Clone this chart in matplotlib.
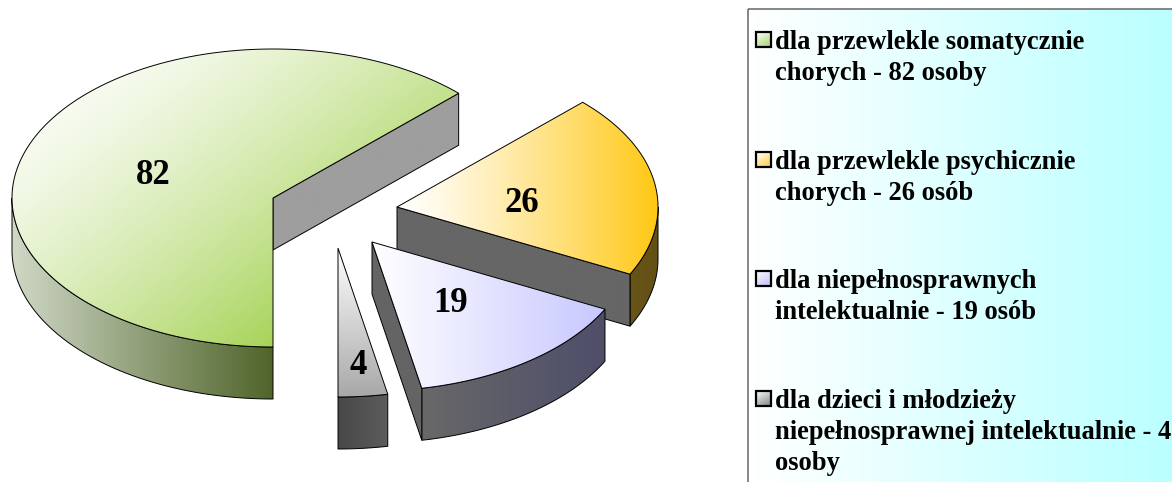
import numpy as np
import matplotlib
matplotlib.use('Agg')
import matplotlib.pyplot as plt
from matplotlib.patches import Polygon
from matplotlib.colors import LinearSegmentedColormap

values = [82, 26, 19, 4]
legend_labels = ['dla przewlekle somatycznie\nchorych - 82 osoby',
                 'dla przewlekle psychicznie\nchorych - 26 osób',
                 'dla niepełnosprawnych\nintelektualnie - 19 osób',
                 'dla dzieci i młodzieży\nniepełnosprawnej intelektualnie - 4\nosoby']

# layout, in pixels of the picture
apex = [(273, 198), (397, 207), (372, 242), (338, 248)]
label_pos = [(153, 175), (522, 203), (451, 304), (358, 366)]
legend_y = [30, 150, 269, 389]
rx, ry, depth = 261, 149, 52

def rgb(r, g, b):
    return (r / 255, g / 255, b / 255)

# top face: gradient direction, start colour, end colour, gamma
tops = [((0.62, 0.78), rgb(255, 255, 255), rgb(126, 191, 11), 1.5),
        ((1, 0), rgb(255, 255, 255), rgb(255, 200, 20), 1.2),
        ((1, 0), rgb(255, 255, 255), rgb(200, 200, 255), 1),
        ((0, 1), rgb(255, 255, 255), rgb(168, 168, 168), 1)]
# outer wall colours, left to right
walls = [(rgb(208, 216, 198), rgb(80, 100, 42)),
         (rgb(104, 84, 24), rgb(100, 80, 20)),
         (rgb(104, 104, 104), rgb(78, 78, 106)),
         (rgb(72, 72, 72), rgb(92, 92, 92))]
# flat side from the apex
cut_colors = [(rgb(158, 158, 158), rgb(158, 158, 158)),
              (rgb(102, 102, 102), rgb(102, 102, 102)),
              (rgb(100, 100, 100), rgb(100, 100, 100)),
              None]
key_colors = [rgb(165, 210, 100), rgb(255, 205, 60), rgb(190, 190, 250), rgb(130, 130, 130)]

fig = plt.figure(figsize=(11.72, 4.82), dpi=100)
ax = fig.add_axes([0, 0, 1, 1])

def arc(cx, cy, a, b, n=120):
    t = np.radians(np.linspace(a, b, n))
    return np.column_stack([cx + rx * np.sin(t), cy - ry * np.cos(t)])

def fill_grad(pts, direction, c0, c1, z, lw=0.7, gamma=1, edge='black'):
    # gradient image clipped to a polygon
    pts = np.asarray(pts)
    x0, y0 = pts.min(axis=0)
    x1, y1 = pts.max(axis=0)
    xx, yy = np.meshgrid(np.linspace(x0, x1, 200), np.linspace(y0, y1, 200))
    g = xx * direction[0] + yy * direction[1]
    g = ((g - g.min()) / max(g.max() - g.min(), 1e-6)) ** gamma
    cmap = LinearSegmentedColormap.from_list('g', [c0, c1])
    im = ax.imshow(g, extent=(x0, x1, y1, y0), cmap=cmap, aspect='auto', zorder=z, origin='upper')
    poly = Polygon(pts, closed=True, facecolor='none', edgecolor=edge, linewidth=lw, zorder=z + 0.1)
    ax.add_patch(poly)
    im.set_clip_path(poly)

total = sum(values)
angle = 180.0
order = 1
for i, v in enumerate(values):
    span = v / total * 360
    a, b = angle, angle + span
    angle = b
    if angle >= 360:
        angle -= 360
    cx, cy = apex[i]
    # outer wall, only the front half of the rim shows
    lo, hi = max(a, 90), min(b, 270)
    if hi > lo:
        rim = arc(cx, cy, lo, hi)
        wall = np.vstack([rim, rim[::-1] + [0, depth]])
        fill_grad(wall, (1, 0), walls[i][0], walls[i][1], order)
    # flat cut side
    if cut_colors[i] is not None:
        p = arc(cx, cy, b, b, 1)[0]
        cut = [(cx, cy), tuple(p), (p[0], p[1] + depth), (cx, cy + depth)]
        fill_grad(cut, (1, 0), cut_colors[i][0], cut_colors[i][1], order + 1)
    top = np.vstack([[(cx, cy)], arc(cx, cy, a, b, 240)])
    fill_grad(top, tops[i][0], tops[i][1], tops[i][2], order + 2, gamma=tops[i][3])
    ax.text(label_pos[i][0], label_pos[i][1], str(v), family='Liberation Serif', weight='bold',
            fontsize=25, ha='center', va='center', color='black', zorder=30)
    order += 3

# legend box runs off the picture on the right and at the bottom
box = [(747.5, 9), (1180, 9), (1180, 490), (747.5, 490)]
fill_grad(box, (1, 0), rgb(255, 255, 255), rgb(185, 255, 255), 40, lw=1.1, edge='#666666')
for i, lab in enumerate(legend_labels):
    y = legend_y[i]
    key = [(755.5, y + 2), (770.5, y + 2), (770.5, y + 17), (755.5, y + 17)]
    fill_grad(key, (0.6, 1), rgb(255, 255, 255), key_colors[i], 41, lw=1.6)
    ax.text(775, y, lab, family='Liberation Serif', weight='bold', fontsize=19.1, ha='left', va='top',
            linespacing=1.31, color='black', zorder=45)

ax.set_xlim(0, 1172)
ax.set_ylim(482, 0)
ax.axis('off')
fig.savefig('out.png', dpi=100)
